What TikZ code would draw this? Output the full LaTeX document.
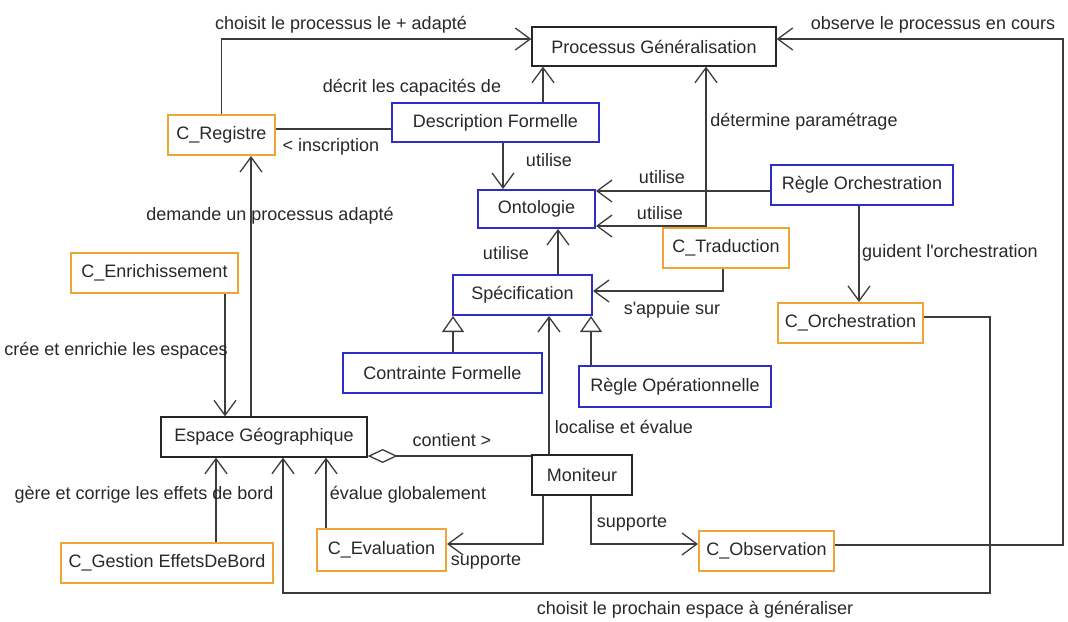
\documentclass[tikz,border=0pt]{standalone}
\usepackage{fontspec}
\setmainfont{Liberation Sans}
\usetikzlibrary{arrows.meta}
\definecolor{orangeC}{RGB}{238,165,55}
\definecolor{blueC}{RGB}{45,45,200}
\definecolor{lineC}{RGB}{60,60,60}
\definecolor{txtC}{RGB}{40,40,40}
\tikzset{
  box/.style={draw=black!85, line width=1.3pt, fill=white, inner sep=0pt, text=txtC, font=\fontsize{18}{21}\selectfont},
  obox/.style={box, draw=orangeC, line width=2pt},
  bbox/.style={box, draw=blueC, line width=2pt},
  lbl/.style={inner sep=0pt, text=txtC, font=\fontsize{18}{21}\selectfont},
  conn/.style={draw=lineC, line width=1.3pt},
  arr/.style={conn, -{Straight Barb[length=15pt,width=22pt]}},
  inh/.style={conn, -{Triangle[open,length=16pt,width=22pt,fill=white]}},
  agg/.style={conn, {Diamond[open,length=30pt,width=14pt,fill=white]}-},
}
\begin{document}
\begin{tikzpicture}[x=1pt,y=-1pt]
\useasboundingbox (0,0) rectangle (1068,621);
% nodes
\node[box, minimum width=244pt, minimum height=39pt] (PG) at (654,46.5) {Processus Généralisation};
\node[obox, minimum width=107pt, minimum height=40pt] (CR) at (221.5,135) {C\_Registre};
\node[bbox, minimum width=207pt, minimum height=39pt] (DF) at (495.5,122.5) {Description Formelle};
\node[bbox, minimum width=117pt, minimum height=38pt] (ONT) at (536.5,209) {Ontologie};
\node[bbox, minimum width=182pt, minimum height=40pt] (RO) at (862,185) {Règle Orchestration};
\node[obox, minimum width=126pt, minimum height=40pt] (CT) at (726,248) {C\_Traduction};
\node[bbox, minimum width=139pt, minimum height=40pt] (SP) at (522.5,295) {Spécification};
\node[bbox, minimum width=199pt, minimum height=40pt] (CF) at (442.5,373) {Contrainte Formelle};
\node[bbox, minimum width=192pt, minimum height=41pt] (ROp) at (675,386.5) {Règle Opérationnelle};
\node[obox, minimum width=145pt, minimum height=40pt] (CO) at (850.5,323) {C\_Orchestration};
\node[obox, minimum width=167pt, minimum height=40pt] (CE) at (154.5,273) {C\_Enrichissement};
\node[box, minimum width=206pt, minimum height=40pt] (EG) at (264,437) {Espace Géographique};
\node[box, minimum width=100pt, minimum height=40pt] (MON) at (582,475) {Moniteur};
\node[obox, minimum width=212pt, minimum height=40pt] (CG) at (167,563) {C\_Gestion EffetsDeBord};
\node[obox, minimum width=129pt, minimum height=42pt] (CEv) at (381.5,550) {C\_Evaluation};
\node[obox, minimum width=135pt, minimum height=40pt] (COb) at (766.5,551) {C\_Observation};
% helper coordinates
\coordinate (v543) at (543,0);
\coordinate (v503) at (503,0);
\coordinate (v706) at (706,0);
\coordinate (v723) at (723,0);
\coordinate (v558) at (558,0);
\coordinate (v453) at (453,0);
\coordinate (v591) at (591,0);
\coordinate (v549) at (549,0);
\coordinate (v859) at (859,0);
\coordinate (v283) at (283,0);
\coordinate (v543b) at (543,0);
\coordinate (v326) at (326,0);
\coordinate (v216) at (216,0);
\coordinate (v225) at (225,0);
\coordinate (v251) at (251,0);
\coordinate (h129) at (0,129);
\coordinate (h191) at (0,191);
\coordinate (h226) at (0,226);
\coordinate (h291) at (0,291);
\coordinate (h317) at (0,317);
\coordinate (h544) at (0,544);
\coordinate (h545) at (0,545);
\coordinate (h456) at (0,456);
\coordinate (k1) at (990,593);
\coordinate (k2) at (1063,39);
% connectors
\draw[arr] (CR.north) |- ([yshift=7.5pt]PG.west);
\draw[arr] (COb.east |- h545) -| (k2) -- ([yshift=7.5pt]PG.east);
\draw[arr] (DF.north -| v543) -- (PG.south -| v543);
\draw[conn] (CR.east |- h129) -- (DF.west |- h129);
\draw[arr] (DF.south -| v503) -- (ONT.north -| v503);
\draw[arr] (RO.west |- h191) -- (ONT.east |- h191);
\draw[arr] (CT.north -| v706) |- (ONT.east |- h226);
\draw[arr] (CT.north -| v706) -- (PG.south -| v706);
\draw[arr] (CT.south -| v723) |- (SP.east |- h291);
\draw[arr] (SP.north -| v558) -- (ONT.south -| v558);
\draw[inh] (CF.north -| v453) -- (SP.south -| v453);
\draw[inh] (ROp.north -| v591) -- (SP.south -| v591);
\draw[arr] (MON.north -| v549) -- (SP.south -| v549);
\draw[arr] (RO.south -| v859) -- (CO.north -| v859);
\draw[arr] (CO.east |- h317) -| (k1) -| (EG.south -| v283);
\draw[arr] (MON.south -| v591) |- (COb.west |- h544);
\draw[arr] (MON.south -| v543b) |- (CEv.east |- h544);
\draw[arr] (CEv.north -| v326) -- (EG.south -| v326);
\draw[arr] (CG.north -| v216) -- (EG.south -| v216);
\draw[arr] (CE.south -| v225) -- (EG.north -| v225);
\draw[arr] (EG.north -| v251) -- (CR.south -| v251);
\draw[agg] (EG.east |- h456) -- (MON.west |- h456);
% labels
\node[lbl] (l1) at (341,25) {choisit le processus le + adapté};
\node[lbl] (l2) at (933,25) {observe le processus en cours};
\node[lbl] (l3) at (412,88) {décrit les capacités de};
\node[lbl] (l4) at (331,147) {< inscription};
\node[lbl] (l5) at (549,160) {utilise};
\node[lbl] (l6) at (662,177) {utilise};
\node[lbl] (l7) at (660,213) {utilise};
\node[lbl] (l8) at (804,122) {détermine paramétrage};
\node[lbl] (l9) at (506,253) {utilise};
\node[lbl] (l10) at (672,310) {s\textquotesingle appuie sur};
\node[lbl] (l11) at (950,253) {guident l\textquotesingle orchestration};
\node[lbl] (l12) at (270,216) {demande un processus adapté};
\node[lbl] (l13) at (116,351) {crée et enrichie les espaces};
\node[lbl] (l14) at (452,440) {contient >};
\node[lbl] (l15) at (624,427) {localise et évalue};
\node[lbl] (l16) at (144,495) {gère et corrige les effets de bord};
\node[lbl] (l17) at (408,495) {évalue globalement};
\node[lbl] (l18) at (632,524) {supporte};
\node[lbl] (l19) at (486,562) {supporte};
\node[lbl] (l20) at (695,610) {choisit le prochain espace à généraliser};
\end{tikzpicture}
\end{document}
